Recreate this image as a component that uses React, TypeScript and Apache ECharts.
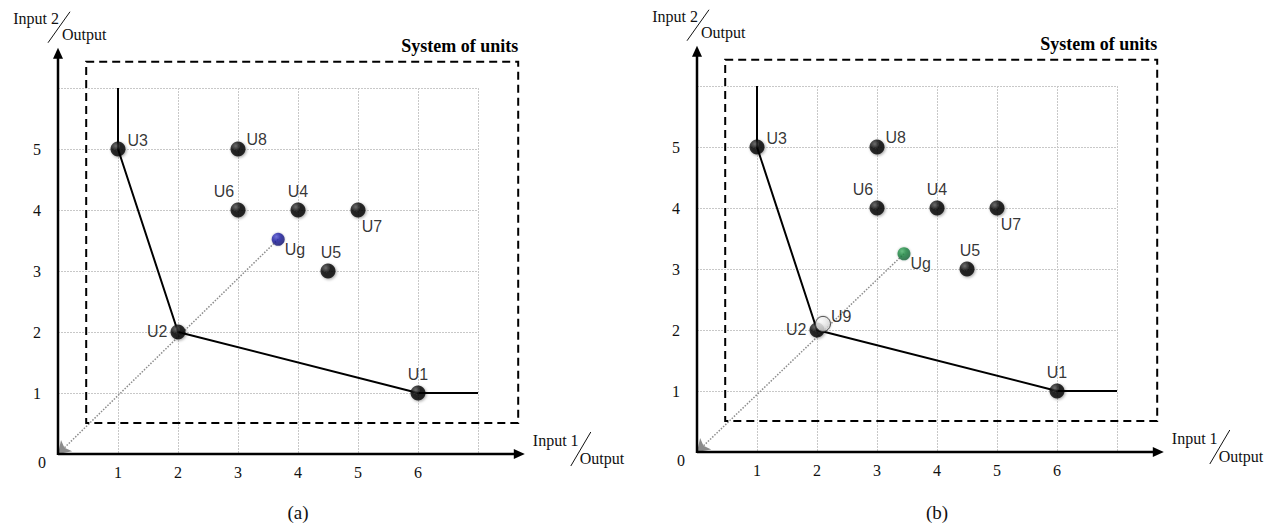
import React, { useEffect, useRef } from "react";
import * as echarts from "echarts";

// ---- data ----
const unitNames = ["U1", "U2", "U3", "U4", "U5", "U6", "U7", "U8"];
const unitInput1 = [6, 2, 1, 4, 4.5, 3, 5, 3];
const unitInput2 = [1, 2, 5, 4, 3, 4, 4, 5];
const frontierX = [1, 1, 2, 6, 7];
const frontierY = [6, 5, 2, 1, 1];
const ugPanelA = [3.67, 3.52];
const ugPanelB = [3.45, 3.25];
const u9PanelB = [2.1, 2.1];
const xTickLabels = ["1", "2", "3", "4", "5", "6"];
const yTickLabels = ["1", "2", "3", "4", "5"];
const panelCaptions = ["(a)", "(b)"];
const boxTitle = "System of units";

// ---- styles ----
const SERIF = '"Liberation Serif", "Times New Roman", serif';
const SANS = '"Liberation Sans", Arial, sans-serif';

const labelPlacement: Record<string, any> = {
  U1: { position: "top", offset: [0, 0] },
  U2: { position: "left", offset: [0, -1] },
  U3: { position: "right", offset: [-1, -9] },
  U4: { position: "top", offset: [0, 0] },
  U5: { position: "top", offset: [3, 0] },
  U6: { position: "top", offset: [-14, 0] },
  U7: { position: "bottom", offset: [14, -2] },
  U8: { position: "right", offset: [-2, -10] },
  Ug: { position: "right", offset: [-3, 10] },
  U9: { position: "right", offset: [-3, -7] },
};

const sphere = (light: string, mid: string, dark: string) => ({
  type: "radial",
  x: 0.35,
  y: 0.3,
  r: 0.75,
  colorStops: [
    { offset: 0, color: light },
    { offset: 0.4, color: mid },
    { offset: 1, color: dark },
  ],
});

const pointLabel = (name: string) => ({
  show: true,
  formatter: "{b}",
  position: labelPlacement[name].position,
  offset: labelPlacement[name].offset,
  distance: 3,
  fontFamily: SANS,
  fontSize: 16,
  color: "#000",
});

export default function App() {
  const ref = useRef<HTMLDivElement>(null);

  useEffect(() => {
    document.body.style.margin = "0";
    if (!ref.current) return;
    const chart = echarts.init(ref.current, null, { renderer: "svg" });

    const grids = [
      { left: 58, top: 88, width: 420, height: 366 },
      { left: 697, top: 86, width: 420, height: 366 },
    ];

    const xAxes = grids.map((_, i) => ({
      type: "value",
      gridIndex: i,
      min: 0,
      max: 7,
      interval: 1,
      axisLine: { show: false },
      axisTick: { show: false },
      axisLabel: {
        margin: 10,
        fontFamily: SERIF,
        fontSize: 16,
        color: "#111",
        formatter: (v: number) => (xTickLabels.includes(String(v)) ? String(v) : ""),
      },
      splitLine: { show: true, lineStyle: { color: "#c8c8c8", width: 1, type: [2, 1] } },
    }));

    const yAxes = grids.map((_, i) => ({
      type: "value",
      gridIndex: i,
      min: 0,
      max: 6,
      interval: 1,
      axisLine: { show: false },
      axisTick: { show: false },
      axisLabel: {
        margin: 17,
        fontFamily: SERIF,
        fontSize: 16,
        color: "#111",
        formatter: (v: number) => (yTickLabels.includes(String(v)) ? String(v) : ""),
      },
      splitLine: { show: true, lineStyle: { color: "#c8c8c8", width: 1, type: [2, 1] } },
    }));

    const series: any[] = [];
    grids.forEach((_, p) => {
      series.push({
        type: "line",
        xAxisIndex: p,
        yAxisIndex: p,
        data: frontierX.map((x, i) => [x, frontierY[i]]),
        symbol: "none",
        lineStyle: { color: "#000", width: 2 },
        z: 3,
        silent: true,
      });
      series.push({
        type: "scatter",
        xAxisIndex: p,
        yAxisIndex: p,
        symbolSize: 15,
        z: 5,
        itemStyle: {
          color: sphere("#5a5a5a", "#080808", "#000"),
          shadowBlur: 3,
          shadowColor: "rgba(0,0,0,0.45)",
          shadowOffsetX: 1,
          shadowOffsetY: 1,
        },
        data: unitNames.map((n, i) => ({
          name: n,
          value: [unitInput1[i], unitInput2[i]],
          label: pointLabel(n),
        })),
      });
      const ug = p === 0 ? ugPanelA : ugPanelB;
      series.push({
        type: "scatter",
        xAxisIndex: p,
        yAxisIndex: p,
        symbolSize: 13,
        z: 6,
        itemStyle:
          p === 0
            ? { color: sphere("#5a5ad8", "#2020a6", "#10106a"), shadowBlur: 2, shadowColor: "rgba(0,0,0,0.3)" }
            : { color: sphere("#4fb870", "#1f8a44", "#136036"), shadowBlur: 2, shadowColor: "rgba(0,0,0,0.3)" },
        data: [{ name: "Ug", value: ug, label: pointLabel("Ug") }],
        markLine: {
          silent: true,
          symbol: ["none", "arrow"],
          symbolSize: 12,
          label: { show: false },
          lineStyle: { color: "#8c8c8c", type: "dotted", width: 1.5 },
          data: [[{ coord: ug }, { coord: [0, 0] }]],
        },
      });
      if (p === 1) {
        series.push({
          type: "scatter",
          xAxisIndex: p,
          yAxisIndex: p,
          symbolSize: 15,
          z: 7,
          itemStyle: {
            color: sphere("#ffffff", "#f0f0f0", "#cfcfcf"),
            borderColor: "#333",
            borderWidth: 1,
            shadowBlur: 2,
            shadowColor: "rgba(0,0,0,0.3)",
          },
          data: [{ name: "U9", value: u9PanelB, label: pointLabel("U9") }],
        });
      }
    });

    chart.setOption({
      animation: false,
      backgroundColor: "#fff",
      grid: grids,
      xAxis: xAxes,
      yAxis: yAxes,
      series,
    });

    const graphic: any[] = [];
    grids.forEach((_, p) => {
      const px = (v: number[]) => chart.convertToPixel({ gridIndex: p } as any, v) as number[];
      const O = px([0, 0]);
      const tipX = px([7.78, 0])[0];
      const tipY = px([0, 6.66])[1];
      const b1 = px([0.47, 6.43]);
      const b2 = px([7.67, 0.51]);
      const mid = px([4, 0])[0];
      graphic.push(
        { type: "line", z: 60, shape: { x1: O[0], y1: O[1], x2: tipX - 8, y2: O[1] }, style: { stroke: "#000", lineWidth: 2.5 } },
        { type: "polygon", z: 60, shape: { points: [[tipX, O[1]], [tipX - 11, O[1] - 5], [tipX - 11, O[1] + 5]] }, style: { fill: "#000" } },
        { type: "line", z: 60, shape: { x1: O[0], y1: O[1] + 1, x2: O[0], y2: tipY + 8 }, style: { stroke: "#000", lineWidth: 2.5 } },
        { type: "polygon", z: 60, shape: { points: [[O[0], tipY], [O[0] - 5, tipY + 11], [O[0] + 5, tipY + 11]] }, style: { fill: "#000" } },
        { type: "rect", z: 55, shape: { x: b1[0], y: b1[1], width: b2[0] - b1[0], height: b2[1] - b1[1] }, style: { fill: "none", stroke: "#000", lineWidth: 2, lineDash: [8, 5] } },
        { type: "text", z: 60, x: b2[0], y: b1[1] - 16, style: { text: boxTitle, font: `bold 18px ${SERIF}`, fill: "#000", align: "right", verticalAlign: "middle" } },
        { type: "text", z: 60, x: O[0] - 16, y: O[1] + 8, style: { text: "0", font: `16px ${SERIF}`, fill: "#111", align: "center", verticalAlign: "middle" } },
        { type: "text", z: 60, x: O[0] + 1, y: tipY - 29, style: { text: "Input 2", font: `16px ${SERIF}`, fill: "#111", align: "right", verticalAlign: "middle" } },
        { type: "line", z: 60, shape: { x1: O[0] - 10, y1: tipY - 5, x2: O[0] + 12, y2: tipY - 36 }, style: { stroke: "#111", lineWidth: 1 } },
        { type: "text", z: 60, x: O[0] + 4, y: tipY - 13, style: { text: "Output", font: `16px ${SERIF}`, fill: "#111", align: "left", verticalAlign: "middle" } },
        { type: "text", z: 60, x: tipX + 8, y: O[1] - 14, style: { text: "Input 1", font: `16px ${SERIF}`, fill: "#111", align: "left", verticalAlign: "middle" } },
        { type: "line", z: 60, shape: { x1: tipX + 46, y1: O[1] + 12, x2: tipX + 66, y2: O[1] - 22 }, style: { stroke: "#111", lineWidth: 1 } },
        { type: "text", z: 60, x: tipX + 55, y: O[1] + 4, style: { text: "Output", font: `16px ${SERIF}`, fill: "#111", align: "left", verticalAlign: "middle" } },
        { type: "text", z: 60, x: mid, y: 512, style: { text: panelCaptions[p], font: `19px ${SERIF}`, fill: "#111", align: "center", verticalAlign: "middle" } }
      );
    });
    chart.setOption({ graphic });

    return () => chart.dispose();
  }, []);

  return <div ref={ref} style={{ width: 1280, height: 531 }} />;
}
